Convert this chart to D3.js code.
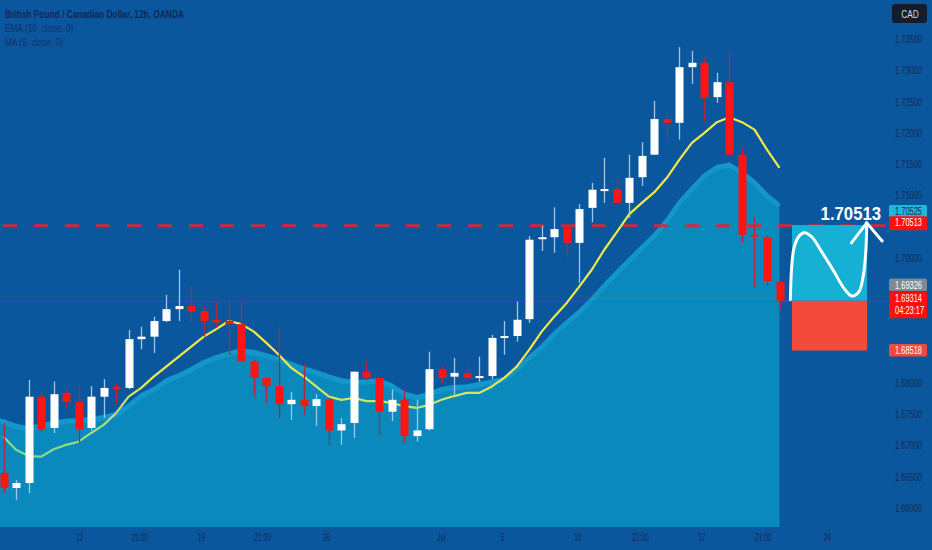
<!DOCTYPE html>
<html><head><meta charset="utf-8">
<script src="https://cdn.jsdelivr.net/npm/d3@7"></script>
<style>
html,body{margin:0;padding:0;background:#0b579d;overflow:hidden}
svg{display:block}
text{font-family:"Liberation Sans",Arial,sans-serif}
</style></head><body><svg id="c" width="932" height="550"></svg>
<script>
// ---------------- DATA ----------------
const title = "British Pound / Canadian Dollar, 12h, OANDA";
const legendLabels = ["EMA (16, close, 0)", "MA (9, close, 0)"];
const currency = "CAD";

const opens = [1.6656,1.6632,1.6640,1.6778,1.6728,1.6784,1.6770,1.6728,1.6778,1.6794,
  1.6792,1.6870,1.6874,1.6899,1.6918,1.6923,1.6915,1.6901,1.6899,1.6894,
  1.6834,1.6808,1.6795,1.6766,1.6773,1.6763,1.6774,1.6724,1.6736,1.6818,
  1.6808,1.6754,1.6773,1.6715,1.6726,1.6822,1.6810,1.6816,1.6808,1.6811,
  1.6872,1.6875,1.6902,1.7030,1.7033,1.7048,1.7024,1.7080,1.7109,1.7110,
  1.7088,1.7129,1.7165,1.7222,1.7216,1.7305,1.7312,1.7257,1.7281,1.7165,
  1.7037,1.7033,1.6962];
const highs = [1.6736,1.6645,1.6805,1.6786,1.6802,1.6790,1.6794,1.6795,1.6806,1.6800,
  1.6885,1.6890,1.6906,1.6941,1.6981,1.6955,1.6922,1.6931,1.6931,1.6930,
  1.6837,1.6808,1.6890,1.6786,1.6830,1.6782,1.6776,1.6744,1.6818,1.6835,
  1.6808,1.6790,1.6790,1.6773,1.6850,1.6827,1.6840,1.6826,1.6842,1.6877,
  1.6899,1.6930,1.7035,1.7051,1.7081,1.7048,1.7086,1.7120,1.7160,1.7129,
  1.7165,1.7185,1.7251,1.7230,1.7337,1.7331,1.7320,1.7296,1.7331,1.7177,
  1.7065,1.7036,1.6962];
const lows = [1.6624,1.6613,1.6624,1.6723,1.6720,1.6760,1.6704,1.6724,1.6744,1.6765,
  1.6790,1.6854,1.6848,1.6897,1.6899,1.6897,1.6874,1.6888,1.6845,1.6834,
  1.6778,1.6768,1.6744,1.6741,1.6749,1.6731,1.6701,1.6701,1.6712,1.6805,
  1.6717,1.6739,1.6704,1.6706,1.6724,1.6800,1.6779,1.6802,1.6802,1.6806,
  1.6845,1.6866,1.6896,1.7011,1.7008,1.7001,1.6960,1.7057,1.7088,1.7088,
  1.7064,1.7115,1.7165,1.7189,1.7189,1.7278,1.7217,1.7248,1.7165,1.7024,
  1.6952,1.6955,1.6917];
const closes = [1.6632,1.6640,1.6778,1.6726,1.6782,1.6770,1.6726,1.6778,1.6792,1.6790,
  1.6870,1.6874,1.6899,1.6918,1.6923,1.6914,1.6899,1.6897,1.6894,1.6834,
  1.6808,1.6795,1.6766,1.6773,1.6763,1.6774,1.6724,1.6734,1.6818,1.6808,
  1.6754,1.6773,1.6715,1.6724,1.6822,1.6808,1.6816,1.6808,1.6811,1.6872,
  1.6875,1.6901,1.7029,1.7033,1.7046,1.7024,1.7078,1.7109,1.7110,1.7088,
  1.7128,1.7163,1.7222,1.7216,1.7305,1.7312,1.7256,1.7281,1.7165,1.7037,
  1.7035,1.6963,1.69314];

// yellow moving-average line
const maValues = [1.6714,1.6693,1.6683,1.6682,1.6694,1.6701,1.6706,1.6720,1.6733,1.6752,
  1.6778,1.6792,1.6810,1.6826,1.6842,1.6858,1.6874,1.6886,1.6899,1.6894,
  1.6882,1.6864,1.6845,1.6824,1.6810,1.6794,1.6778,1.6773,1.6776,1.6771,
  1.6771,1.6768,1.6763,1.6760,1.6765,1.6773,1.6779,1.6784,1.6784,1.6794,
  1.6808,1.6826,1.6853,1.6882,1.6906,1.6928,1.6954,1.6981,1.7013,1.7041,
  1.7070,1.7088,1.7105,1.7128,1.7157,1.7184,1.7200,1.7217,1.7225,1.7217,
  1.7205,1.7173,1.7144];
// filled EMA area
const emaValues = [1.6744,1.6735,1.6731,1.6736,1.6740,1.6743,1.6744,1.6746,1.6749,1.6754,
  1.6768,1.6784,1.6794,1.6808,1.6816,1.6826,1.6837,1.6845,1.6851,1.6856,
  1.6853,1.6848,1.6842,1.6834,1.6827,1.6821,1.6814,1.6808,1.6805,1.6806,
  1.6808,1.6800,1.6787,1.6781,1.6786,1.6794,1.6797,1.6798,1.6802,1.6806,
  1.6810,1.6826,1.6845,1.6862,1.6883,1.6901,1.6918,1.6938,1.6960,1.6981,
  1.7001,1.7021,1.7040,1.7064,1.7093,1.7115,1.7136,1.7149,1.7153,1.7141,
  1.7125,1.7104,1.7088];

const yTicks = [1.660,1.665,1.670,1.675,1.680,1.685,1.690,1.695,1.700,1.705,1.710,1.715,1.720,1.725,1.730,1.735];
const xTickPos = [6.1,10.9,15.8,20.7,25.8,35.0,39.9,45.9,50.9,55.8,60.7,65.8];
const xTickLabels = ["12","21:00","19","21:00","26","Jul","5","10","21:00","17","21:00","24"];

const resistance = 1.70513;
const bidPrice = 1.70525;
const lastPrice = 1.69314;
const prevPrice = 1.69326;
const targetLow = 1.68518;
const countdown = "04:23:17";

// projection box (candle-index span) and hand-drawn arrow (index, price)
const boxSpan = [63, 69];
const arrowCurve = [[62.87,1.6933],[62.97,1.6985],[63.15,1.7015],[63.5,1.7033],[64.0,1.7040],
  [64.6,1.7033],[65.3,1.7012],[66.3,1.6980],[67.2,1.6950],[67.8,1.6939],[68.35,1.6946],
  [68.7,1.6972],[68.9,1.7012],[68.97,1.7056]];
const arrowHead = [[67.75,1.7024],[68.97,1.7056],[70.2,1.7027]];
const bigLabelIdx = 67.7;

// ---------------- LAYOUT ----------------
const W = 932, H = 550;
const paneBottom = 527;
const x = d3.scaleLinear().domain([0, 62]).range([3.5, 779.5]);
const y = d3.scaleLinear().domain([1.660, 1.735]).range([508, 39]);
const bodyW = 8;
const textCol = "#132a55";

const svg = d3.select("#c");
svg.append("rect").attr("width", W).attr("height", H).attr("fill", "#0b579d");

function sText(g, px, py, str, o) {
  return g.append("text")
    .attr("transform", `translate(${px},${py}) scale(${o.sx||1},1)`)
    .attr("text-anchor", o.anchor || "start")
    .attr("font-size", o.size || 11)
    .attr("font-weight", o.weight || "normal")
    .attr("fill", o.fill || textCol)
    .text(str);
}

const idx = d3.range(opens.length);

// ---- EMA area ----
const leftEdge = i => i === 0 ? x.range()[0] - 3.5 : x(i);
const area = d3.area().x(leftEdge).y0(paneBottom).y1(i => y(emaValues[i]));
svg.append("path").datum(idx).attr("d", area).attr("fill", "#0a89bd");
const topLine = d3.line().x(leftEdge).y(i => y(emaValues[i]));
svg.append("path").datum(idx).attr("d", topLine)
  .attr("transform", "translate(0,3)")
  .attr("fill", "none").attr("stroke", "#1c9fd4").attr("stroke-width", 5).attr("opacity", 0.6);

// ---- resistance dashed line ----
svg.append("line")
  .attr("x1", 0).attr("x2", 888)
  .attr("y1", y(resistance)).attr("y2", y(resistance))
  .attr("stroke", "#e3262c").attr("stroke-width", 3)
  .attr("stroke-dasharray", "14,17").attr("stroke-dashoffset", -3)
  .attr("opacity", 0.9);

// ---- last price dotted line ----
svg.append("line")
  .attr("x1", 0).attr("x2", 888)
  .attr("y1", Math.round(y(lastPrice)) + 0.5).attr("y2", Math.round(y(lastPrice)) + 0.5)
  .attr("stroke", "#c4283e").attr("stroke-width", 1)
  .attr("stroke-dasharray", "1,1").attr("opacity", 0.85);

// ---- MA line with gradient ----
const defs = svg.append("defs");
const grad = defs.append("linearGradient").attr("id", "maGrad")
  .attr("gradientUnits", "userSpaceOnUse")
  .attr("x1", 0).attr("x2", 0)
  .attr("y1", y(1.6690)).attr("y2", y(1.6820));
grad.append("stop").attr("offset", "0%").attr("stop-color", "#84d98c");
grad.append("stop").attr("offset", "55%").attr("stop-color", "#c4e36a");
grad.append("stop").attr("offset", "100%").attr("stop-color", "#f1e947");
const maLine = d3.line().x(i => x(i)).y(i => y(maValues[i]));
svg.append("path").datum(idx).attr("d", maLine)
  .attr("fill", "none").attr("stroke", "url(#maGrad)").attr("stroke-width", 2.2)
  .attr("stroke-linejoin", "round");

// ---- candles ----
const cg = svg.append("g");
idx.forEach(i => {
  const up = closes[i] >= opens[i];
  const cx = Math.round(x(i)) + 0.5;
  cg.append("line")
    .attr("x1", cx).attr("x2", cx)
    .attr("y1", y(highs[i])).attr("y2", y(lows[i]))
    .attr("stroke", up ? "#9fc6e8" : "#b0263c").attr("stroke-width", 1.3);
  const top = y(Math.max(opens[i], closes[i]));
  const bot = y(Math.min(opens[i], closes[i]));
  cg.append("rect")
    .attr("x", cx - bodyW / 2).attr("width", bodyW)
    .attr("y", top).attr("height", Math.max(2, bot - top))
    .attr("fill", up ? "#ffffff" : "#ff1414");
});

// ---- projection box + arrow ----
const bx0 = x(boxSpan[0]), bx1 = x(boxSpan[1]);
svg.append("rect").attr("x", bx0).attr("width", bx1 - bx0)
  .attr("y", y(bidPrice)).attr("height", y(lastPrice) - y(bidPrice))
  .attr("fill", "#15b0d3");
svg.append("rect").attr("x", bx0).attr("width", bx1 - bx0)
  .attr("y", y(lastPrice)).attr("height", y(targetLow) - y(lastPrice))
  .attr("fill", "#f34a3c");
const arrowLine = d3.line().x(d => x(d[0])).y(d => y(d[1])).curve(d3.curveCatmullRom.alpha(0.5));
svg.append("path").datum(arrowCurve).attr("d", arrowLine)
  .attr("fill", "none").attr("stroke", "#ffffff").attr("stroke-width", 3).attr("stroke-linecap", "round");
svg.append("path").datum(arrowHead).attr("d", d3.line().x(d => x(d[0])).y(d => y(d[1])))
  .attr("fill", "none").attr("stroke", "#ffffff").attr("stroke-width", 3)
  .attr("stroke-linecap", "round").attr("stroke-linejoin", "round");
sText(svg, x(bigLabelIdx), y(resistance) - 6, resistance.toFixed(5),
  {size: 18, weight: "bold", fill: "#ffffff", anchor: "middle", sx: 0.93});

// ---- price labels on axis ----
const tags = [];
function priceTag(top, h, bg, fg, lines) {
  tags.push([top, top + h]);
  svg.append("rect").attr("x", 889).attr("y", top).attr("width", 38).attr("height", h)
    .attr("rx", 1.5).attr("fill", bg);
  lines.forEach((s, k) => sText(svg, 895, top + 10 + k * 12.5, s, {size: 11, sx: 0.68, fill: fg}));
}
priceTag(y(bidPrice) - 20, 12.5, "#22b6dc", "#0e2a4f", [bidPrice.toFixed(5)]);
priceTag(y(resistance) - 9.5, 14, "#ff1010", "#ffffff", [resistance.toFixed(5)]);
priceTag(y(prevPrice) - 21.5, 12.5, "#7f8893", "#ffffff", [prevPrice.toFixed(5)]);
priceTag(y(lastPrice) - 9, 26.5, "#ff1010", "#ffffff", [lastPrice.toFixed(5), countdown]);
priceTag(y(targetLow) - 6.5, 12.5, "#f0493f", "#ffffff", [targetLow.toFixed(5)]);

// ---- y axis labels (hidden where a price tag covers them) ----
const yg = svg.append("g");
yTicks.forEach(t => {
  const ty = y(t);
  const hidden = tags.some(([a, b]) => ty + 5 > a && ty - 5 < b);
  if (!hidden) sText(yg, 895, ty + 4, t.toFixed(5), {size: 11, sx: 0.68});
});

// ---- currency box ----
svg.append("rect").attr("x", 892).attr("y", 4).attr("width", 35).attr("height", 19)
  .attr("rx", 3).attr("fill", "#131d2c");
sText(svg, 910, 17.5, currency, {size: 11, sx: 0.75, fill: "#d4d8e0", anchor: "middle"});

// ---- x axis labels ----
const xg = svg.append("g");
xTickPos.forEach((p, k) => {
  sText(xg, x(p), 541, xTickLabels[k], {size: 11, sx: 0.6, anchor: "middle"});
});

// ---- legend ----
sText(svg, 5, 18, title, {size: 11, weight: "bold", sx: 0.76, fill: "#0f2858"});
legendLabels.forEach((s, k) => sText(svg, 5, 32 + k * 14, s, {size: 11, sx: 0.76, fill: "#14306a"}));
</script></body></html>
